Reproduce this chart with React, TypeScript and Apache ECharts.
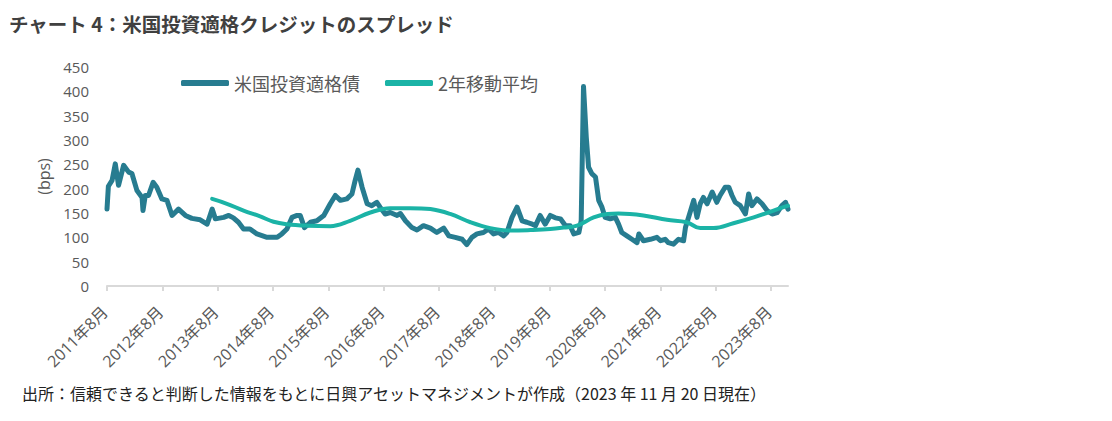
import React, { useEffect, useRef } from 'react';
import * as echarts from 'echarts';

const titleText = 'チャート 4：米国投資適格クレジットのスプレッド';
const sourceText = '出所：信頼できると判断した情報をもとに日興アセットマネジメントが作成（2023 年 11 月 20 日現在）';
const seriesNames = ['米国投資適格債', '2年移動平均'];
const yAxisName = '(bps)';
const tickYears = [2011, 2012, 2013, 2014, 2015, 2016, 2017, 2018, 2019, 2020, 2021, 2022, 2023];
const startDate = '2011-08-01';
const endDate = '2023-11-20';

const spreadDates = [
  '2011-08-01', '2011-08-10', '2011-09-04', '2011-09-25', '2011-10-16', '2011-11-19', '2011-12-22',
  '2012-01-13', '2012-02-16', '2012-03-19', '2012-03-25', '2012-04-10', '2012-05-01', '2012-06-01',
  '2012-06-25', '2012-07-28', '2012-09-01', '2012-10-04', '2012-11-16', '2013-01-01', '2013-02-13',
  '2013-04-07', '2013-05-22', '2013-06-25', '2013-07-16', '2013-09-10', '2013-10-13', '2013-11-13',
  '2013-12-16', '2014-01-19', '2014-03-01', '2014-04-16', '2014-06-22', '2014-08-28', '2014-09-28',
  '2014-11-01', '2014-12-04', '2015-01-07', '2015-01-28', '2015-02-25', '2015-04-04', '2015-05-16',
  '2015-07-01', '2015-08-13', '2015-09-16', '2015-10-19', '2015-12-01', '2016-01-04', '2016-01-25',
  '2016-02-13', '2016-03-10', '2016-04-13', '2016-05-13', '2016-06-16', '2016-07-07', '2016-08-10',
  '2016-09-13', '2016-10-28', '2016-11-19', '2016-12-22', '2017-02-04', '2017-03-07', '2017-04-19',
  '2017-06-04', '2017-07-16', '2017-09-01', '2017-10-04', '2017-11-16', '2018-01-01', '2018-02-01',
  '2018-03-04', '2018-04-07', '2018-05-19', '2018-06-22', '2018-07-25', '2018-08-28', '2018-10-01',
  '2018-10-22', '2018-11-25', '2018-12-28', '2019-02-01', '2019-03-01', '2019-04-07', '2019-04-28',
  '2019-05-28', '2019-07-01', '2019-08-04', '2019-09-07', '2019-10-10', '2019-11-13', '2019-12-13',
  '2020-01-07', '2020-02-10', '2020-02-25', '2020-03-10', '2020-03-28', '2020-04-13', '2020-05-04',
  '2020-05-28', '2020-06-19', '2020-07-10', '2020-08-01', '2020-09-04', '2020-10-07', '2020-10-28',
  '2020-11-19', '2020-12-22', '2021-01-25', '2021-02-28', '2021-03-10', '2021-04-10', '2021-05-25',
  '2021-07-07', '2021-08-01', '2021-09-01', '2021-09-22', '2021-10-25', '2021-11-28', '2022-01-01',
  '2022-01-13', '2022-02-10', '2022-03-07', '2022-03-28', '2022-04-19', '2022-05-10', '2022-06-04',
  '2022-07-07', '2022-08-07', '2022-08-28', '2022-10-01', '2022-10-25', '2022-11-16', '2022-12-07',
  '2023-01-10', '2023-02-13', '2023-03-04', '2023-03-25', '2023-04-28', '2023-06-01', '2023-07-04',
  '2023-08-07', '2023-09-10', '2023-10-10', '2023-11-04', '2023-11-20',
];
const spreadValues = [
  158, 205, 217, 251, 207, 248, 234,
  231, 196, 182, 155, 186, 186, 213,
  203, 179, 176, 145, 158, 145, 139,
  136, 127, 158, 138, 141, 145, 140,
  131, 117, 117, 107, 100, 100, 107,
  117, 141, 145, 145, 120, 131, 134,
  145, 169, 186, 176, 179, 189, 217,
  238, 203, 169, 165, 172, 162, 148,
  151, 145, 149, 134, 120, 115, 124,
  119, 110, 119, 103, 100, 96, 85,
  100, 107, 110, 117, 107, 110, 103,
  110, 141, 162, 134, 131, 127, 124,
  145, 127, 145, 140, 138, 124, 124,
  107, 110, 134, 410, 306, 244, 231,
  224, 176, 162, 141, 138, 141, 127,
  110, 103, 96, 89, 107, 93, 96,
  100, 93, 96, 89, 86, 96, 93,
  120, 148, 176, 141, 169, 182, 169,
  193, 172, 186, 203, 203, 186, 172,
  165, 148, 189, 165, 179, 169, 155,
  148, 151, 165, 172, 158,
];

const maDates = [
  '2013-06-25', '2013-10-01', '2014-01-19', '2014-05-07', '2014-08-04', '2014-11-01', '2015-03-13',
  '2015-08-13', '2015-12-22', '2016-05-04', '2016-09-13', '2017-01-22', '2017-06-04', '2017-10-13',
  '2018-02-25', '2018-07-04', '2018-11-13', '2019-03-25', '2019-08-04', '2019-11-01', '2020-01-28',
  '2020-05-16', '2020-08-16', '2020-10-28', '2021-04-10', '2021-09-13', '2022-01-22', '2022-04-19',
  '2022-07-16', '2022-11-25', '2023-04-07', '2023-08-16', '2023-11-20',
];
const maValues = [
  179, 169, 155, 143, 132, 127, 124,
  123, 134, 151, 160, 160, 158, 148,
  131, 119, 114, 115, 117, 120, 124,
  141, 148, 149, 145, 136, 131, 119,
  119, 129, 141, 155, 165,
];

function monthOffset(d: string): number {
  const [y, m, day] = d.split('-').map(Number);
  const [y0, m0, d0] = startDate.split('-').map(Number);
  return (y - y0) * 12 + (m - m0) + (day - d0) / 30;
}

const COLOR_DARK = '#277c90';
const COLOR_LIGHT = '#1bb3a6';
const LATIN = "'Open Sans', 'Noto Sans CJK JP', sans-serif";
const CJK = "'Noto Sans CJK JP', sans-serif";

export default function App() {
  const ref = useRef<HTMLDivElement>(null);

  useEffect(() => {
    document.body.style.margin = '0';
    if (!ref.current) return;
    const chart = echarts.init(ref.current, undefined, { renderer: 'svg' });
    const tickVals = tickYears.map((y) => (y - tickYears[0]) * 12);
    const option: any = {
      animation: false,
      backgroundColor: '#ffffff',
      title: {
        text: titleText,
        left: 4,
        top: 9,
        textStyle: { fontFamily: CJK, fontSize: 19.5, fontWeight: 'bold', color: '#404040' },
      },
      legend: {
        left: 181,
        top: 74,
        padding: 0,
        icon: 'roundRect',
        itemWidth: 48,
        itemHeight: 6,
        itemGap: 25,
        textStyle: { fontFamily: CJK, fontSize: 18, color: '#595959' },
        data: seriesNames,
      },
      grid: { left: 107, right: 324, top: 67, bottom: 135, containLabel: false },
      xAxis: {
        type: 'value',
        min: 0,
        max: monthOffset(endDate),
        splitLine: { show: false },
        axisLine: { show: true, lineStyle: { color: '#d9d9d9', width: 2 } },
        axisTick: { show: true, length: 5, customValues: tickVals, lineStyle: { color: '#d9d9d9', width: 2 } },
        axisLabel: {
          customValues: tickVals,
          rotate: 45,
          margin: 21,
          padding: [0, 3, 0, 0],
          fontFamily: LATIN,
          fontSize: 16,
          color: '#595959',
          formatter: (v: number) => `${tickYears[0] + Math.round(v / 12)}年8月`,
        },
      },
      yAxis: {
        type: 'value',
        min: 0,
        max: 450,
        interval: 50,
        name: yAxisName,
        nameLocation: 'middle',
        nameGap: 54,
        nameTextStyle: { fontFamily: LATIN, fontSize: 16, color: '#595959' },
        splitLine: { show: false },
        axisLine: { show: false },
        axisTick: { show: false },
        axisLabel: { fontFamily: LATIN, fontSize: 15, color: '#595959', margin: 18 },
      },
      graphic: [
        {
          type: 'text',
          left: 22,
          top: 385,
          style: { text: sourceText, fontFamily: CJK, fontSize: 16, fill: '#222222' },
        },
      ],
      series: [
        {
          name: seriesNames[0],
          type: 'line',
          showSymbol: false,
          symbol: 'none',
          lineStyle: { color: COLOR_DARK, width: 5, cap: 'round', join: 'round' },
          itemStyle: { color: COLOR_DARK },
          data: spreadDates.map((d, i) => [monthOffset(d), spreadValues[i]]),
        },
        {
          name: seriesNames[1],
          type: 'line',
          showSymbol: false,
          symbol: 'none',
          smooth: 0.4,
          lineStyle: { color: COLOR_LIGHT, width: 4, cap: 'round', join: 'round' },
          itemStyle: { color: COLOR_LIGHT },
          data: maDates.map((d, i) => [monthOffset(d), maValues[i]]),
        },
      ],
    };
    chart.setOption(option);
    return () => chart.dispose();
  }, []);

  return <div ref={ref} style={{ width: 1112, height: 421 }} />;
}
